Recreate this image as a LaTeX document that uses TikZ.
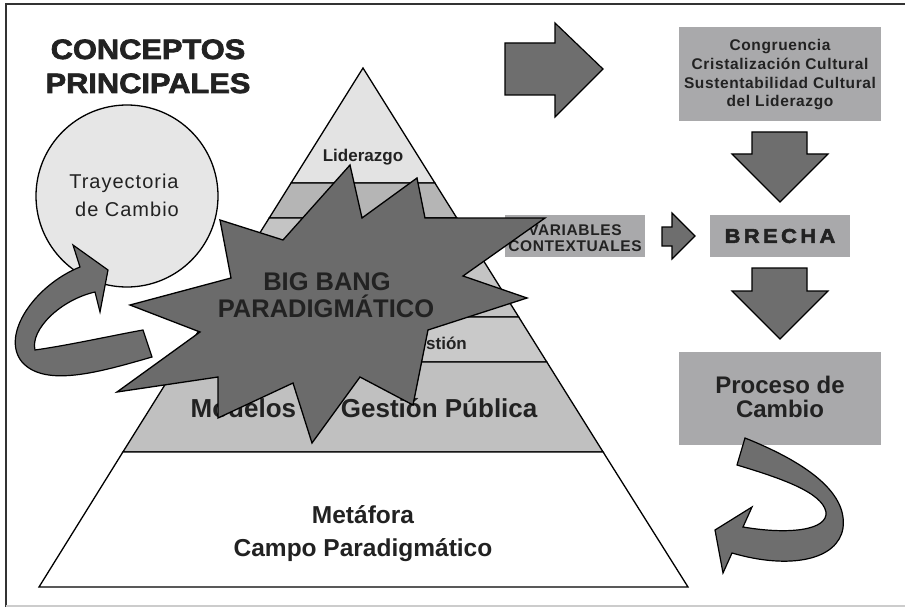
\documentclass[tikz,border=0pt]{standalone}
\usepackage{fontspec}
\setmainfont{Liberation Sans}
\newfontfamily\spacedfont{Liberation Sans}[LetterSpace=5]
\newfontfamily\boxfont{Liberation Sans}[LetterSpace=4]
\newfontfamily\heavyfont{Liberation Sans}[BoldFeatures={FakeBold=2.5,FakeStretch=1.1}]
\definecolor{stargray}{HTML}{6B6B6B}
\definecolor{arrowgray}{HTML}{6E6E6E}
\definecolor{boxgray}{HTML}{A9A9AB}
\definecolor{txt}{HTML}{222222}
\definecolor{bandA}{HTML}{E3E3E3}
\definecolor{bandB}{HTML}{B5B5B5}
\definecolor{bandC}{HTML}{C4C4C4}
\definecolor{bandD}{HTML}{C9C9C9}
\definecolor{bandE}{HTML}{C0C0C0}
\definecolor{circfill}{HTML}{E6E6E6}
\begin{document}
\begin{tikzpicture}[x=1pt,y=-1pt,
  band/.style={draw=black,line width=1.3pt,line join=miter},
  blockarrow/.style={fill=arrowgray,draw=black,line width=1.2pt,line join=miter},
  graybox/.style={fill=boxgray,draw=none,align=center,text=txt,inner sep=0pt},
  lbl/.style={text=txt,inner sep=0pt,anchor=base}]
\useasboundingbox (0,0) rectangle (905,607);
\fill[white] (0,0) rectangle (905,607);
% frame
\draw[line width=2pt,color=black!80] (6,607) -- (6,4) -- (905,4);
\draw[line width=1.5pt,color=black!20] (6,606) -- (905,606);

% title
\node[lbl] (t1) at (148,59) {\fontsize{28}{30}\selectfont\heavyfont\bfseries CONCEPTOS};
\node[lbl] (t2) at (148,93) {\fontsize{28}{30}\selectfont\heavyfont\bfseries PRINCIPALES};

% pyramid bands
\filldraw[band,fill=bandA] (363,68) -- (434.9,183) -- (291.1,183) -- cycle;
\filldraw[band,fill=bandB] (291.1,183) -- (434.9,183) -- (456.8,218) -- (269.2,218) -- cycle;
\filldraw[band,fill=bandC] (269.2,218) -- (456.8,218) -- (518.7,317) -- (207.3,317) -- cycle;
\filldraw[band,fill=bandD] (207.3,317) -- (518.7,317) -- (546.8,362) -- (179.2,362) -- cycle;
\filldraw[band,fill=bandE] (179.2,362) -- (546.8,362) -- (603.1,452) -- (122.9,452) -- cycle;
\filldraw[band,fill=white] (122.9,452) -- (603.1,452) -- (688,587) -- (39,587) -- cycle;

\node[lbl] (lid) at (363,161) {\fontsize{17}{19}\selectfont\bfseries Liderazgo};
\node[lbl,anchor=base east] (gest) at (467,349) {\fontsize{17}{19}\selectfont\bfseries Gestión};
\node[lbl] (mod) at (364,417) {\fontsize{26}{28}\selectfont\bfseries Modelos de Gestión Pública};
\node[lbl] (met) at (363,523) {\fontsize{24.5}{27}\selectfont\bfseries Metáfora};
\node[lbl] (camp) at (363,556) {\fontsize{24.5}{27}\selectfont\bfseries Campo Paradigmático};

% circle
\node[circle,draw=black,line width=1.3pt,fill=circfill,minimum size=182pt,inner sep=0pt] (circ) at (127,196) {};
\node[lbl] (tr1) at (124,189) {\fontsize{20}{22}\selectfont\spacedfont Trayectoria};
\node[lbl] (tr2) at (127,216) {\fontsize{20}{22}\selectfont\spacedfont de Cambio};

% left curved arrow
\draw[blockarrow] (80,267) -- (73,245) -- (108,270) -- (100,312) -- (95,292)
  .. controls (60,300) and (30,330) .. (35,350)
  .. controls (70,345) and (110,336) .. (143,330)
  -- (152,357)
  .. controls (100,372) and (45,388) .. (22,362)
  .. controls (0,335) and (35,285) .. (80,267) -- cycle;

% right boxes
\node[graybox,minimum width=202pt,minimum height=94pt] (cong) at (780,74) {};
\node[lbl] (c1) at (780,51) {\fontsize{15.5}{18}\selectfont\boxfont\bfseries Congruencia};
\node[lbl] (c2) at (780,70) {\fontsize{15.5}{18}\selectfont\boxfont\bfseries Cristalización Cultural};
\node[lbl] (c3) at (780,89) {\fontsize{15.5}{18}\selectfont\boxfont\bfseries Sustentabilidad Cultural};
\node[lbl] (c4) at (780,107) {\fontsize{15.5}{18}\selectfont\boxfont\bfseries del Liderazgo};

\node[graybox,minimum width=140pt,minimum height=42pt] (brecha) at (780,236) {\fontsize{20}{22}\selectfont\heavyfont\bfseries B\,R\,E\,C\,H\,A};
\node[graybox,minimum width=140pt,minimum height=42pt] (vars) at (575,236) {};
\node[lbl] (v1) at (575,235) {\fontsize{15.5}{16}\selectfont\boxfont\bfseries VARIABLES};
\node[lbl] (v2) at (575,251) {\fontsize{15.5}{16}\selectfont\boxfont\bfseries CONTEXTUALES};

\node[graybox,minimum width=202pt,minimum height=93pt] (proc) at (780,398.5) {};
\node[lbl] (p1) at (780,393) {\fontsize{24}{26}\selectfont\bfseries Proceso de};
\node[lbl] (p2) at (780,417) {\fontsize{24}{26}\selectfont\bfseries Cambio};

% block arrows
\draw[blockarrow] (505,43) -- (555,43) -- (555,23) -- (603,69) -- (555,117) -- (555,95) -- (505,95) -- cycle;
\draw[blockarrow] (752,132) -- (807,132) -- (807,154) -- (828,154) -- (780,202) -- (732,154) -- (752,154) -- cycle;
\draw[blockarrow] (752,268) -- (807,268) -- (807,291) -- (828,291) -- (780,339) -- (732,291) -- (752,291) -- cycle;
\draw[blockarrow] (662,227) -- (672,227) -- (672,213) -- (695,236) -- (672,259) -- (672,246) -- (662,246) -- cycle;

% right curved arrow
\draw[blockarrow] (745,438) .. controls (800,460) and (848,490) .. (843,528)
  .. controls (838,560) and (790,570) .. (732,553)
  -- (723,573) -- (715,530) -- (752,507) -- (743,527)
  .. controls (790,535) and (828,530) .. (826,512)
  .. controls (822,492) and (780,478) .. (737,465) -- cycle;

% star
\filldraw[fill=stargray,draw=black,line width=1.3pt,line join=miter]
  (350,165) -- (362,218) -- (417,178) -- (425,218) -- (545,218) -- (463,276)
  -- (527,298) -- (428,330) -- (413,405) -- (360,377) -- (312,443) -- (293,383)
  -- (218,418) -- (218,377) -- (117,392) -- (200,332) -- (130,305) -- (231,278)
  -- (220,220) -- (283,240) -- cycle;
\node[lbl] (bb1) at (327,290) {\fontsize{25.5}{27}\selectfont\bfseries BIG BANG};
\node[lbl] (bb2) at (326,317) {\fontsize{25.5}{27}\selectfont\bfseries PARADIGMÁTICO};
\end{tikzpicture}
\end{document}
